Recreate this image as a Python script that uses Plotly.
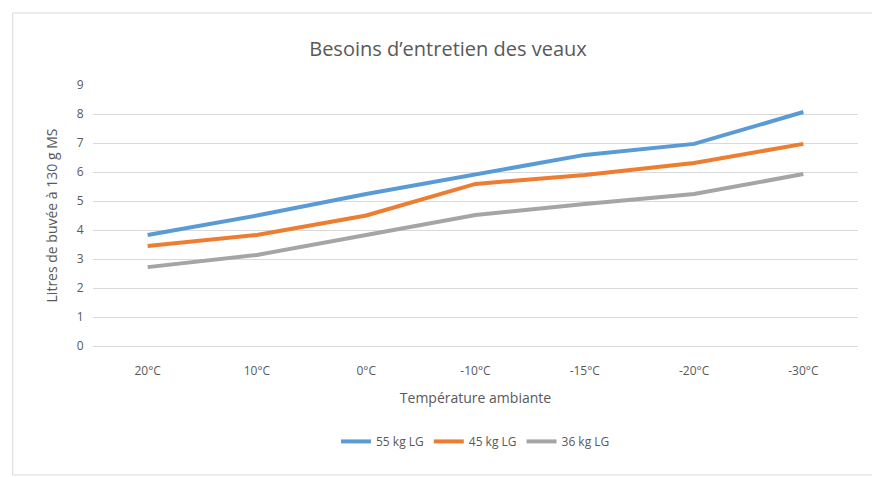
import plotly.graph_objects as go

categories = ["20°C", "10°C", "0°C", "-10°C", "-15°C", "-20°C", "-30°C"]
s55 = [3.83, 4.5, 5.24, 5.93, 6.59, 6.97, 8.07]
s45 = [3.45, 3.83, 4.5, 5.59, 5.9, 6.31, 6.97]
s36 = [2.72, 3.14, 3.83, 4.52, 4.9, 5.24, 5.93]
names = ["55 kg LG", "45 kg LG", "36 kg LG"]
colors = ["#5B9BD5", "#ED7D31", "#A5A5A5"]

fig = go.Figure()
for n, v, c in zip(names, [s55, s45, s36], colors):
    fig.add_trace(go.Scatter(x=categories, y=v, name=n, mode="lines",
                             line=dict(color=c, width=4)))
font = "Open Sans, Liberation Sans, sans-serif"
fig.update_layout(
    width=880, height=477, paper_bgcolor="white", plot_bgcolor="white",
    margin=dict(l=85, r=30, t=77, b=139),
    title=dict(text="Besoins d’entretien des veaux", x=0.5, xanchor="center",
               y=0.915, yanchor="middle", yref="container",
               font=dict(family=font, size=20, color="#595959")),
    font=dict(family=font, size=12, color="#595959"),
    xaxis=dict(title=dict(text="Température ambiante", font=dict(size=14), standoff=14),
               range=[-0.5, 6.5], showgrid=False, showline=True, linecolor="#D9D9D9",
               ticks="outside", ticklen=14, tickcolor="rgba(0,0,0,0)"),
    yaxis=dict(title=dict(text="Litres de buvée à 130 g MS", font=dict(size=14)),
               range=[0, 9], dtick=1, gridcolor="#D9D9D9", zeroline=False,
               ticks="outside", ticklen=6, tickcolor="rgba(0,0,0,0)"),
    legend=dict(orientation="h", x=0.5, xanchor="center", y=-0.31, yanchor="top",
                font=dict(size=12)),
    shapes=[dict(type="rect", xref="paper", yref="paper", x0=-0.105, x1=1.029,
                 y0=-0.494, y1=1.276, line=dict(color="#D9D9D9", width=1))],
)
fig.write_html("out.html")
